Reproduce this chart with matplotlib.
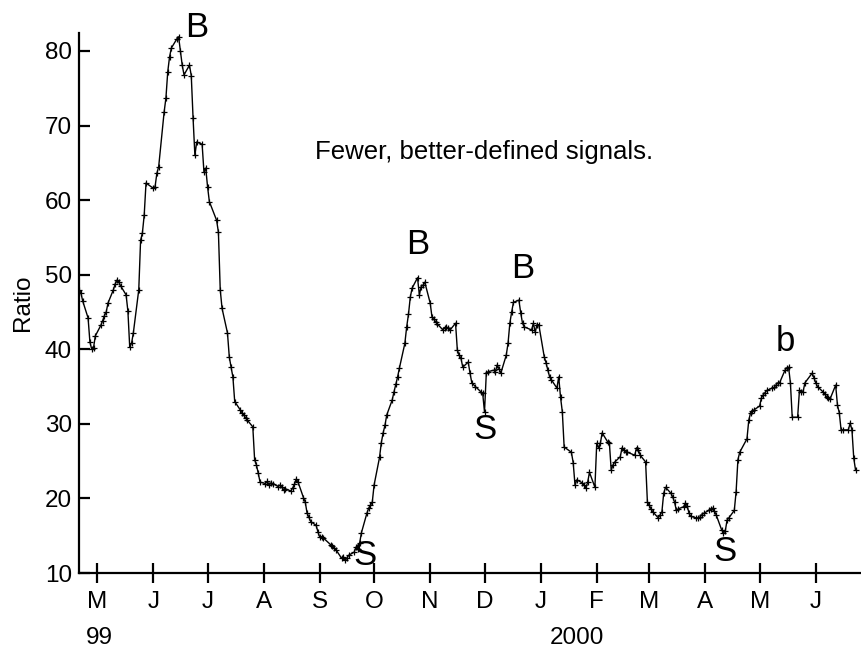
import matplotlib
matplotlib.use("Agg")
import matplotlib.pyplot as plt
import matplotlib.transforms as mtransforms
import pandas as pd

plt.rcParams["font.family"] = ["Liberation Sans", "DejaVu Sans"]

# daily ratio (trading days)
dates = [
    # Apr 99
    "1999-04-21", "1999-04-22", "1999-04-23", "1999-04-26", "1999-04-27", "1999-04-28", "1999-04-29", "1999-04-30",
    # May 99
    "1999-05-03", "1999-05-04", "1999-05-05", "1999-05-06", "1999-05-07", "1999-05-10", "1999-05-11", "1999-05-12",
    "1999-05-13", "1999-05-14", "1999-05-17", "1999-05-18", "1999-05-19", "1999-05-20", "1999-05-21", "1999-05-24",
    "1999-05-25", "1999-05-26", "1999-05-27", "1999-05-28",
    # Jun 99
    "1999-06-01", "1999-06-02", "1999-06-03", "1999-06-04", "1999-06-07", "1999-06-08", "1999-06-09", "1999-06-10",
    "1999-06-11", "1999-06-14", "1999-06-15", "1999-06-16", "1999-06-17", "1999-06-18", "1999-06-21", "1999-06-22",
    "1999-06-23", "1999-06-24", "1999-06-25", "1999-06-28", "1999-06-29", "1999-06-30",
    # Jul 99
    "1999-07-01", "1999-07-02", "1999-07-06", "1999-07-07", "1999-07-08", "1999-07-09", "1999-07-12", "1999-07-13",
    "1999-07-14", "1999-07-15", "1999-07-16", "1999-07-19", "1999-07-20", "1999-07-21", "1999-07-22", "1999-07-23",
    "1999-07-26", "1999-07-27", "1999-07-28", "1999-07-29", "1999-07-30",
    # Aug 99
    "1999-08-02", "1999-08-03", "1999-08-04", "1999-08-05", "1999-08-06", "1999-08-09", "1999-08-10", "1999-08-11",
    "1999-08-12", "1999-08-13", "1999-08-16", "1999-08-17", "1999-08-18", "1999-08-19", "1999-08-20", "1999-08-23",
    "1999-08-24", "1999-08-25", "1999-08-26", "1999-08-27", "1999-08-30", "1999-08-31",
    # Sep 99
    "1999-09-01", "1999-09-02", "1999-09-03", "1999-09-07", "1999-09-08", "1999-09-09", "1999-09-10", "1999-09-13",
    "1999-09-14", "1999-09-15", "1999-09-16", "1999-09-17", "1999-09-20", "1999-09-21", "1999-09-22", "1999-09-23",
    "1999-09-24", "1999-09-27", "1999-09-28", "1999-09-29", "1999-09-30",
    # Oct 99
    "1999-10-01", "1999-10-04", "1999-10-05", "1999-10-06", "1999-10-07", "1999-10-08", "1999-10-11", "1999-10-12",
    "1999-10-13", "1999-10-14", "1999-10-15", "1999-10-18", "1999-10-19", "1999-10-20", "1999-10-21", "1999-10-22",
    "1999-10-25", "1999-10-26", "1999-10-27", "1999-10-28", "1999-10-29",
    # Nov 99
    "1999-11-01", "1999-11-02", "1999-11-03", "1999-11-04", "1999-11-05", "1999-11-08", "1999-11-09", "1999-11-10",
    "1999-11-11", "1999-11-12", "1999-11-15", "1999-11-16", "1999-11-17", "1999-11-18", "1999-11-19", "1999-11-22",
    "1999-11-23", "1999-11-24", "1999-11-26", "1999-11-29", "1999-11-30",
    # Dec 99
    "1999-12-01", "1999-12-02", "1999-12-03", "1999-12-06", "1999-12-07", "1999-12-08", "1999-12-09", "1999-12-10",
    "1999-12-13", "1999-12-14", "1999-12-15", "1999-12-16", "1999-12-17", "1999-12-20", "1999-12-21", "1999-12-22",
    "1999-12-23", "1999-12-27", "1999-12-28", "1999-12-29", "1999-12-30", "1999-12-31",
    # Jan 00
    "2000-01-03", "2000-01-04", "2000-01-05", "2000-01-06", "2000-01-07", "2000-01-10", "2000-01-11", "2000-01-12",
    "2000-01-13", "2000-01-14", "2000-01-18", "2000-01-19", "2000-01-20", "2000-01-21", "2000-01-24", "2000-01-25",
    "2000-01-26", "2000-01-27", "2000-01-28", "2000-01-31",
    # Feb 00
    "2000-02-01", "2000-02-02", "2000-02-03", "2000-02-04", "2000-02-07", "2000-02-08", "2000-02-09", "2000-02-10",
    "2000-02-11", "2000-02-14", "2000-02-15", "2000-02-16", "2000-02-17", "2000-02-18", "2000-02-22", "2000-02-23",
    "2000-02-24", "2000-02-25", "2000-02-28", "2000-02-29",
    # Mar 00
    "2000-03-01", "2000-03-02", "2000-03-03", "2000-03-06", "2000-03-07", "2000-03-08", "2000-03-09", "2000-03-10",
    "2000-03-13", "2000-03-14", "2000-03-15", "2000-03-16", "2000-03-17", "2000-03-20", "2000-03-21", "2000-03-22",
    "2000-03-23", "2000-03-24", "2000-03-27", "2000-03-28", "2000-03-29", "2000-03-30", "2000-03-31",
    # Apr 00
    "2000-04-03", "2000-04-04", "2000-04-05", "2000-04-06", "2000-04-07", "2000-04-10", "2000-04-11", "2000-04-12",
    "2000-04-13", "2000-04-14", "2000-04-17", "2000-04-18", "2000-04-19", "2000-04-20", "2000-04-24", "2000-04-25",
    "2000-04-26", "2000-04-27", "2000-04-28",
    # May 00
    "2000-05-01", "2000-05-02", "2000-05-03", "2000-05-04", "2000-05-05", "2000-05-08", "2000-05-09", "2000-05-10",
    "2000-05-11", "2000-05-12", "2000-05-15", "2000-05-16", "2000-05-17", "2000-05-18", "2000-05-19", "2000-05-22",
    "2000-05-23", "2000-05-24", "2000-05-25", "2000-05-26", "2000-05-30", "2000-05-31",
    # Jun 00
    "2000-06-01", "2000-06-02", "2000-06-05", "2000-06-06", "2000-06-07", "2000-06-08", "2000-06-09", "2000-06-12",
    "2000-06-13", "2000-06-14", "2000-06-15", "2000-06-16", "2000-06-19", "2000-06-20", "2000-06-21", "2000-06-22",
    "2000-06-23",
]

ratio = [
    48.0, 47.6, 46.5, 44.2, 41.0, 40.0, 40.2, 41.8,
    43.2, 43.8, 44.5, 45.0, 46.2, 48.0, 48.8, 49.3, 49.0, 48.5, 47.3, 45.1, 40.3, 40.8, 42.2, 48.0,
    54.6, 55.6, 58.0, 62.3,
    61.6, 61.8, 63.6, 64.5, 71.8, 73.7, 77.2, 79.2, 80.4, 81.6, 81.9, 80.0, 78.1, 76.8, 78.1, 76.7,
    71.0, 66.0, 67.8, 67.5, 63.8, 64.3,
    61.8, 59.8, 57.3, 55.7, 48.0, 45.5, 42.2, 39.0, 37.6, 36.3, 33.0, 31.9, 31.5, 31.2, 30.8, 30.5,
    29.6, 25.2, 24.5, 23.4, 22.2,
    22.0, 22.3, 21.8, 22.1, 22.0, 21.6, 21.8, 21.5, 21.2, 21.3, 21.0, 21.4, 21.9, 22.6, 22.2, 20.1,
    19.5, 18.0, 17.5, 16.9, 16.4, 15.5,
    14.8, 14.9, 14.7, 13.8, 13.6, 13.3, 13.1, 12.0, 12.2, 11.7, 12.0, 12.4, 12.8, 13.5, 13.2, 14.0,
    15.4, 18.0, 18.7, 19.1, 19.5,
    21.8, 25.5, 27.5, 28.8, 29.8, 31.2, 33.2, 34.3, 35.3, 36.3, 37.5, 40.8, 43.0, 44.7, 47.0, 48.2,
    49.6, 47.3, 48.4, 48.6, 49.0,
    46.2, 44.3, 44.0, 43.7, 43.4, 42.6, 42.9, 43.0, 42.8, 42.6, 43.5, 39.9, 39.2, 38.8, 37.6, 38.3,
    36.8, 35.5, 35.0, 34.3, 34.1,
    31.6, 36.8, 37.0, 37.2, 37.0, 37.9, 37.4, 36.8, 39.2, 40.8, 43.5, 45.0, 46.3, 46.6, 44.9, 43.5,
    43.0, 42.6, 43.5, 42.3, 43.3, 43.3,
    39.0, 38.2, 37.2, 36.3, 35.9, 34.8, 36.3, 33.6, 31.6, 26.9, 26.2, 24.8, 21.8, 22.5, 22.1, 21.8,
    21.4, 22.2, 23.5, 21.5,
    27.4, 26.8, 27.4, 28.8, 27.6, 27.4, 23.8, 24.5, 24.9, 25.6, 26.8, 26.5, 26.2, 26.2, 25.8, 26.8,
    26.5, 25.8, 24.9, 19.5,
    19.1, 18.6, 18.2, 17.4, 17.8, 18.2, 20.7, 21.5, 20.7, 20.2, 19.5, 18.4, 18.6, 18.9, 19.4, 19.0,
    18.0, 17.6, 17.4, 17.4, 17.5, 17.8, 18.0,
    18.4, 18.6, 18.7, 18.3, 17.8, 15.8, 15.4, 15.6, 17.1, 17.4, 18.4, 20.9, 25.2, 26.2, 28.0, 30.5,
    31.5, 31.7, 31.9,
    32.4, 33.5, 33.9, 34.2, 34.5, 34.8, 34.9, 35.2, 35.5, 35.5, 37.2, 37.5, 37.6, 35.5, 30.9, 30.9,
    34.5, 34.3, 34.3, 35.5, 36.8, 36.2,
    35.5, 35.0, 34.3, 34.0, 33.6, 33.5, 33.4, 35.2, 32.5, 31.5, 29.2, 29.2, 29.2, 30.1, 29.2, 25.4,
    23.8,
]

tick_dates = ["1999-05-01", "1999-06-01", "1999-07-01", "1999-08-01", "1999-09-01", "1999-10-01",
              "1999-11-01", "1999-12-01", "2000-01-01", "2000-02-01", "2000-03-01", "2000-04-01",
              "2000-05-01", "2000-06-01"]
tick_labels = ["M", "J", "J", "A", "S", "O", "N", "D", "J", "F", "M", "A", "M", "J"]

year_dates = ["1999-05-02", "2000-01-21"]
year_labels = ["99", "2000"]

signal_dates = ["1999-06-25", "1999-09-26", "1999-10-25", "1999-12-01", "1999-12-22", "2000-04-12", "2000-05-15"]
signal_values = [83.2, 12.3, 54.1, 29.2, 50.9, 12.9, 41.0]
signal_labels = ["B", "S", "B", "S", "B", "S", "b"]

fig = plt.figure(figsize=(8.61, 6.49), dpi=100)
ax = fig.add_axes([0.0918, 0.117, 0.9082, 0.832])

x = pd.to_datetime(dates)
ax.plot(x, ratio, color="black", lw=1.0, marker="+", ms=4, mew=0.9)

ax.set_xlim(pd.Timestamp("1999-04-21"), pd.Timestamp("2000-06-26"))
ax.set_ylim(10, 82.4)
ax.set_yticks([10, 20, 30, 40, 50, 60, 70, 80])
ax.set_xticks(pd.to_datetime(tick_dates))
ax.set_xticklabels(tick_labels)

for side in ["top", "right"]:
    ax.spines[side].set_visible(False)
for side in ["left", "bottom"]:
    ax.spines[side].set_linewidth(1.6)

ax.tick_params(axis="y", direction="in", length=8, width=1.6, labelsize=17.5, pad=5)
ax.tick_params(axis="x", direction="inout", length=14, width=1.6, labelsize=17.5, pad=6)
ax.set_ylabel("Ratio", fontsize=17.5, labelpad=8)

trans = mtransforms.blended_transform_factory(ax.transData, ax.transAxes)
for d, lab in zip(year_dates, year_labels):
    ax.text(pd.Timestamp(d), -0.12, lab, transform=trans, ha="center", va="center", fontsize=17.5)

for d, v, lab in zip(signal_dates, signal_values, signal_labels):
    ax.text(pd.Timestamp(d), v, lab, ha="center", va="center", fontsize=25, clip_on=False)

ax.text(pd.Timestamp("1999-12-01"), 66.4, "Fewer, better-defined signals.", ha="center", va="center",
        fontsize=18.5)

fig.savefig("out.png", dpi=100)
